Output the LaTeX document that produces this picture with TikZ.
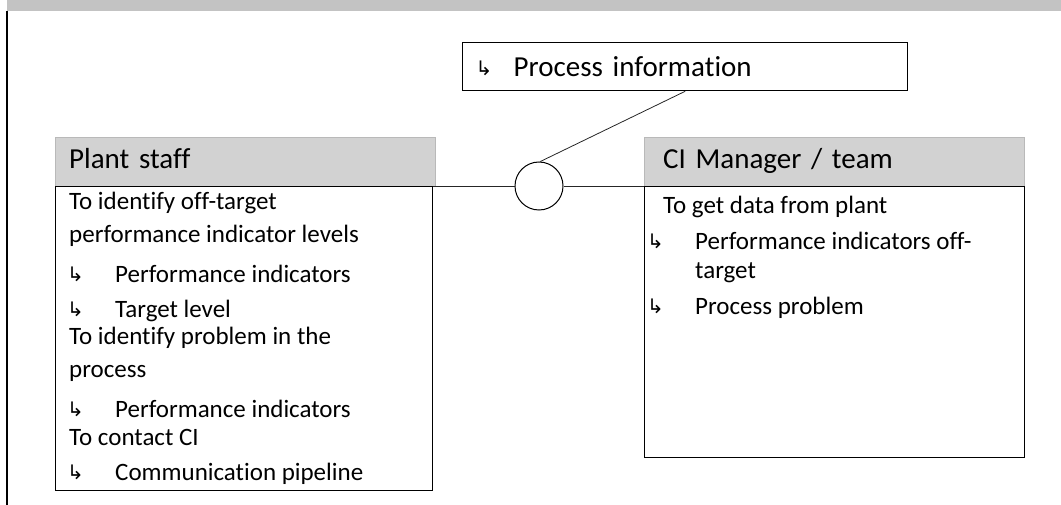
\documentclass[tikz,border=0pt]{standalone}
\usepackage{fontspec}
\setmainfont{Carlito}[Ligatures=CommonOff]
\newfontfamily\arrowfont{DejaVu Sans}
\usetikzlibrary{positioning}

% bullet arrow: back-shift, then box width
\newcommand{\bul}[2][2pt]{\hspace*{-#1}\makebox[#2][l]{\raisebox{1pt}{\arrowfont\fontsize{20}{20}\selectfont ↳}}}

\begin{document}
\begin{tikzpicture}[x=1pt,y=-1pt,
  headbox/.style={draw=gray!55, fill=gray!35, anchor=north west, align=left,
    minimum height=49pt, text height=20pt, text depth=6pt,
    font=\fontsize{29}{35}\selectfont},
  bodybox/.style={draw=black, line width=1.3pt, anchor=north west, inner sep=0pt},
  bodytext/.style={anchor=north west, inner sep=0pt, align=left,
    font=\fontsize{25}{33}\selectfont},
  procbox/.style={draw=black, line width=1.3pt, anchor=north west, align=left,
    minimum height=48pt, inner xsep=15pt, text width=415pt,
    font=\fontsize{29}{35}\selectfont},
  link/.style={draw=black!85, line width=0.8pt}]
  \useasboundingbox (0,0) rectangle (1061,505);

  % top band and left rule
  \fill[gray!47] (7,0) rectangle (1061,11);
  \draw[line width=1.3pt] (7,11) -- (7,505);

  % process information
  \node[procbox] (procinfo) at (462,42) {\bul[2pt]{38pt}Process information};

  % plant staff
  \node[headbox, inner xsep=14pt, text width=352pt] (staffhead) at (55,137) {Plant staff};
  \node[bodybox, minimum width=377pt, minimum height=304pt] (staffbody) at (55,186) {};
  \node[bodytext] (stafftext) at (69,192) {To identify off-target\\
    performance indicator levels\\[7pt]
    \bul{48pt}Performance indicators\\[2pt]
    \bul{48pt}Target level\\[-6pt]
    To identify problem in the\\
    process\\[7pt]
    \bul{48pt}Performance indicators\\[-5pt]
    To contact CI\\[2pt]
    \bul{48pt}Communication pipeline};

  % CI manager / team
  \node[headbox, inner xsep=19pt, text width=342pt] (cihead) at (644,137) {CI Manager / team};
  \node[bodybox, minimum width=380pt, minimum height=271pt] (cibody) at (644,186) {};
  \node[bodytext] (citext) at (663,196) {To get data from plant\\[3pt]
    \bul[16pt]{48pt}Performance indicators off-\\[-4pt]
    \hspace*{32pt}target\\[3pt]
    \bul[16pt]{48pt}Process problem};

  % interface
  \node[draw, circle, line width=1pt, minimum size=48pt, inner sep=0pt] (joint) at (539,186) {};
  \draw[link] (staffbody.north east) -- (joint.west);
  \draw[link] (joint.east) -- (cibody.north west);
  \draw[link] (joint.87) -- (procinfo.south);
\end{tikzpicture}
\end{document}
